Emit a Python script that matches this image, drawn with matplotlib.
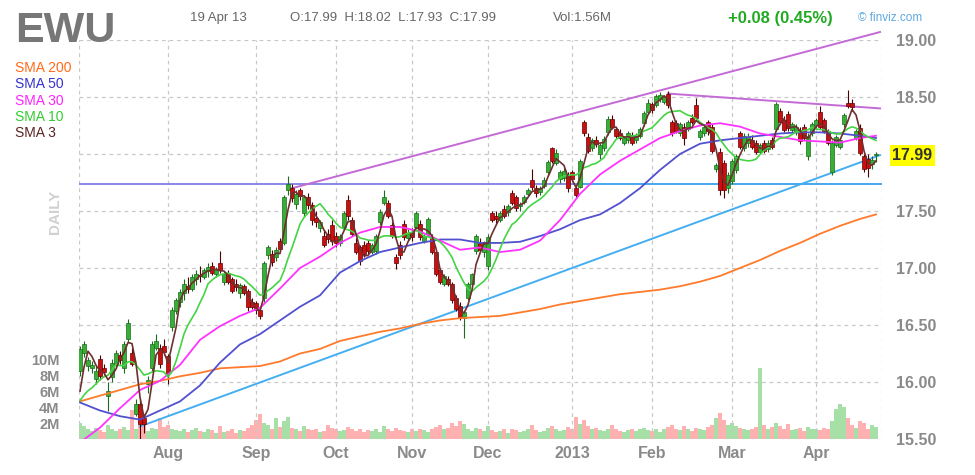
import matplotlib.pyplot as plt
import numpy as np
import pandas as pd

# daily OHLC, EWU, about 200 sessions up to 19 Apr 2013
opens = [
    16.10, 16.25, 16.14, 16.12, 16.03, 16.20, 16.12, 15.88, 16.04, 16.15,
    16.24, 16.12, 16.38, 16.25, 15.72, 15.81, 15.68, 15.98, 16.12, 16.30,
    16.30, 16.32, 16.23, 16.48, 16.62, 16.70, 16.78, 16.84, 16.82, 16.90,
    16.94, 16.92, 16.97, 17.02, 16.95, 17.04, 16.88, 16.96, 16.90, 16.86,
    16.78, 16.84, 16.80, 16.70, 16.69, 16.63, 16.74, 17.11, 17.12, 17.10,
    17.24, 17.22, 17.68, 17.70, 17.56, 17.68, 17.48, 17.62, 17.55, 17.44,
    17.35, 17.28, 17.30, 17.38, 17.28, 17.22, 17.36, 17.60, 17.42, 17.22,
    17.18, 17.20, 17.22, 17.14, 17.15, 17.40, 17.57, 17.57, 17.38, 17.10,
    17.20, 17.39, 17.26, 17.32, 17.36, 17.39, 17.24, 17.30, 17.27, 17.14,
    16.98, 16.86, 16.90, 16.86, 16.74, 16.67, 16.56, 16.74, 16.86, 17.15,
    17.22, 17.14, 17.02, 17.48, 17.46, 17.42, 17.52, 17.49, 17.66, 17.62,
    17.54, 17.58, 17.65, 17.77, 17.70, 17.67, 17.72, 17.84, 18.05, 17.92,
    17.78, 17.79, 17.82, 17.84, 17.70, 17.71, 18.28, 18.15, 18.05, 18.12,
    18.00, 18.05, 18.19, 18.31, 18.22, 18.18, 18.10, 18.12, 18.17, 18.12,
    18.16, 18.27, 18.37, 18.44, 18.43, 18.48, 18.46, 18.53, 18.28, 18.27,
    18.18, 18.24, 18.22, 18.32, 18.43, 18.15, 18.18, 18.28, 18.24, 17.87,
    18.02, 17.92, 17.70, 17.76, 17.86, 18.18, 18.05, 18.10, 18.12, 18.10,
    18.02, 18.10, 18.04, 18.12, 18.22, 18.38, 18.30, 18.35, 18.21, 18.19,
    18.21, 18.24, 17.98, 18.18, 18.25, 18.37, 18.30, 18.20, 17.84, 18.08,
    18.06, 18.26, 18.45, 18.45, 18.14, 18.23, 17.98, 17.96, 17.91, 17.99,
]
highs = [
    16.32, 16.36, 16.22, 16.18, 16.14, 16.24, 16.16, 16.00, 16.20, 16.28,
    16.27, 16.36, 16.55, 16.30, 15.85, 15.84, 15.72, 16.05, 16.36, 16.42,
    16.33, 16.38, 16.25, 16.66, 16.74, 16.82, 16.90, 16.92, 16.95, 16.98,
    17.02, 17.00, 17.04, 17.05, 17.01, 17.15, 16.97, 16.98, 16.92, 16.90,
    16.87, 16.86, 16.82, 16.74, 16.71, 16.65, 17.06, 17.20, 17.16, 17.18,
    17.26, 17.64, 17.81, 17.74, 17.68, 17.70, 17.64, 17.66, 17.58, 17.50,
    17.42, 17.33, 17.34, 17.42, 17.32, 17.30, 17.50, 17.64, 17.45, 17.26,
    17.20, 17.24, 17.25, 17.22, 17.30, 17.52, 17.68, 17.60, 17.40, 17.12,
    17.24, 17.42, 17.34, 17.35, 17.50, 17.42, 17.30, 17.45, 17.30, 17.16,
    17.00, 16.95, 16.93, 16.88, 16.76, 16.70, 16.63, 16.88, 16.96, 17.30,
    17.26, 17.24, 17.30, 17.50, 17.50, 17.50, 17.55, 17.56, 17.68, 17.64,
    17.58, 17.64, 17.70, 17.87, 17.73, 17.72, 17.80, 17.95, 18.06, 18.04,
    17.86, 17.88, 17.84, 17.86, 17.72, 17.96, 18.30, 18.18, 18.14, 18.16,
    18.10, 18.16, 18.33, 18.34, 18.24, 18.22, 18.16, 18.20, 18.19, 18.18,
    18.24, 18.38, 18.48, 18.46, 18.53, 18.54, 18.52, 18.55, 18.30, 18.30,
    18.28, 18.27, 18.30, 18.35, 18.49, 18.22, 18.26, 18.30, 18.26, 17.92,
    18.05, 17.95, 17.84, 17.96, 18.00, 18.20, 18.18, 18.18, 18.17, 18.12,
    18.10, 18.12, 18.12, 18.15, 18.46, 18.40, 18.33, 18.38, 18.28, 18.26,
    18.24, 18.26, 18.18, 18.28, 18.32, 18.42, 18.32, 18.22, 18.12, 18.17,
    18.14, 18.36, 18.56, 18.48, 18.22, 18.26, 18.00, 18.00, 17.98, 18.02,
]
lows = [
    16.05, 16.22, 16.10, 16.08, 15.98, 16.02, 16.06, 15.75, 16.00, 16.12,
    16.16, 16.08, 16.35, 16.14, 15.70, 15.48, 15.55, 15.90, 16.10, 16.28,
    16.12, 16.24, 15.98, 16.45, 16.60, 16.66, 16.72, 16.78, 16.80, 16.85,
    16.88, 16.90, 16.92, 16.94, 16.92, 16.96, 16.85, 16.86, 16.78, 16.80,
    16.74, 16.76, 16.62, 16.64, 16.60, 16.55, 16.70, 17.08, 17.02, 17.06,
    17.14, 17.20, 17.64, 17.58, 17.52, 17.60, 17.45, 17.52, 17.38, 17.36,
    17.32, 17.18, 17.22, 17.20, 17.18, 17.19, 17.34, 17.42, 17.28, 17.12,
    17.03, 17.10, 17.12, 17.12, 17.12, 17.38, 17.55, 17.44, 17.26, 16.99,
    17.08, 17.25, 17.24, 17.24, 17.34, 17.25, 17.22, 17.28, 17.12, 16.93,
    16.86, 16.84, 16.84, 16.69, 16.62, 16.54, 16.39, 16.72, 16.84, 17.12,
    17.14, 17.10, 16.98, 17.40, 17.39, 17.40, 17.44, 17.46, 17.55, 17.50,
    17.50, 17.56, 17.63, 17.68, 17.62, 17.64, 17.70, 17.82, 17.92, 17.90,
    17.75, 17.76, 17.67, 17.76, 17.61, 17.70, 18.16, 18.01, 18.03, 18.06,
    17.96, 18.03, 18.17, 18.22, 18.14, 18.12, 18.08, 18.10, 18.08, 18.10,
    18.14, 18.25, 18.35, 18.36, 18.41, 18.46, 18.44, 18.40, 18.16, 18.18,
    18.16, 18.08, 18.20, 18.26, 18.30, 18.12, 18.16, 18.17, 18.01, 17.84,
    17.64, 17.61, 17.66, 17.74, 17.83, 18.04, 18.03, 18.06, 18.04, 18.00,
    18.00, 18.01, 18.02, 18.04, 18.20, 18.26, 18.19, 18.20, 18.19, 18.17,
    18.09, 18.12, 17.95, 18.16, 18.23, 18.22, 18.18, 18.08, 17.82, 18.06,
    18.04, 18.24, 18.40, 18.38, 18.12, 17.99, 17.84, 17.80, 17.87, 17.93,
]
closes = [
    16.29, 16.33, 16.19, 16.15, 16.10, 16.05, 16.09, 15.92, 16.17, 16.25,
    16.19, 16.33, 16.52, 16.16, 15.81, 15.63, 15.63, 16.02, 16.33, 16.36,
    16.16, 16.26, 16.08, 16.63, 16.72, 16.79, 16.86, 16.82, 16.92, 16.95,
    16.93, 16.98, 17.01, 16.96, 16.99, 16.98, 16.95, 16.88, 16.80, 16.83,
    16.85, 16.78, 16.66, 16.66, 16.63, 16.58, 17.04, 17.18, 17.05, 17.16,
    17.17, 17.62, 17.74, 17.61, 17.65, 17.63, 17.62, 17.55, 17.42, 17.40,
    17.40, 17.20, 17.25, 17.24, 17.22, 17.28, 17.48, 17.46, 17.30, 17.14,
    17.06, 17.12, 17.15, 17.20, 17.28, 17.49, 17.62, 17.46, 17.28, 17.04,
    17.11, 17.27, 17.31, 17.27, 17.48, 17.27, 17.28, 17.43, 17.14, 16.95,
    16.88, 16.93, 16.86, 16.72, 16.64, 16.56, 16.61, 16.86, 16.95, 17.28,
    17.16, 17.21, 17.27, 17.42, 17.43, 17.48, 17.46, 17.54, 17.57, 17.53,
    17.56, 17.62, 17.68, 17.71, 17.66, 17.70, 17.77, 17.93, 17.94, 18.01,
    17.84, 17.85, 17.70, 17.78, 17.64, 17.94, 18.18, 18.03, 18.12, 18.09,
    18.08, 18.13, 18.31, 18.24, 18.16, 18.14, 18.14, 18.18, 18.10, 18.16,
    18.22, 18.36, 18.45, 18.39, 18.51, 18.52, 18.50, 18.43, 18.18, 18.20,
    18.26, 18.14, 18.28, 18.28, 18.32, 18.20, 18.24, 18.20, 18.03, 17.90,
    17.68, 17.68, 17.82, 17.94, 17.98, 18.06, 18.16, 18.15, 18.06, 18.02,
    18.08, 18.03, 18.10, 18.06, 18.44, 18.28, 18.21, 18.23, 18.26, 18.24,
    18.11, 18.14, 18.16, 18.26, 18.30, 18.24, 18.20, 18.10, 18.10, 18.15,
    18.12, 18.34, 18.42, 18.41, 18.20, 18.01, 17.87, 17.88, 17.95, 17.99,
]
# closes before the window, needed for the short averages
pre_closes = [15.85, 15.80, 15.90, 15.75, 15.70, 15.82, 15.79, 15.70, 15.77]

# volume in millions
volume = [
    2.0, 1.6, 1.2, 1.0, 1.4, 1.1, 0.9, 1.8, 1.2, 1.0,
    1.3, 1.5, 1.1, 3.6, 1.2, 3.0, 2.2, 1.0, 1.4, 1.2,
    2.6, 1.5, 1.8, 1.3, 1.1, 1.0, 1.2, 0.9, 1.1, 1.4,
    1.0, 0.9, 1.3, 1.1, 0.8, 1.6, 0.9, 1.0, 1.2, 0.8,
    1.1, 1.0, 1.4, 1.7, 2.4, 3.1, 2.0, 1.8, 1.2, 2.6,
    1.5, 2.2, 2.8, 1.4, 1.2, 1.0, 1.6, 1.3, 1.1, 1.2,
    0.9, 1.0, 1.8, 1.4, 1.2, 1.0, 1.1, 1.5, 1.3, 1.0,
    1.2, 0.9, 1.1, 1.0, 1.3, 0.9, 1.6, 1.2, 1.0, 1.4,
    1.1, 1.0, 0.9, 1.2, 1.0, 1.3, 1.1, 0.9, 1.2, 1.5,
    1.8, 1.2, 1.4, 2.0, 1.6, 2.2, 1.9, 1.3, 1.0, 1.4,
    1.2, 1.0, 1.6, 1.1, 0.9, 1.0, 1.2, 0.8, 1.3, 1.1,
    0.9, 1.0, 1.2, 1.8, 1.1, 0.9, 1.0, 1.4, 1.6, 1.2,
    1.0, 1.1, 1.5, 1.3, 2.8, 1.9, 2.4, 1.6, 1.2, 1.4,
    1.1, 1.0, 1.3, 1.8, 1.2, 1.0, 0.9, 1.1, 1.3, 1.0,
    1.2, 1.4, 1.1, 1.0, 1.3, 0.9, 1.2, 1.5, 1.8, 1.3,
    1.1, 1.6, 1.2, 1.0, 1.4, 1.2, 1.1, 1.5, 1.8, 2.6,
    3.2, 2.4, 1.8, 2.0, 1.6, 1.4, 1.2, 1.1, 1.3, 1.5,
    8.9, 1.8, 1.2, 1.5, 2.0, 1.6, 1.3, 1.9, 1.1, 1.2,
    1.4, 1.0, 1.5, 1.2, 1.3, 1.1, 1.4, 1.2, 2.2, 3.8,
    4.4, 4.0, 2.6, 1.7, 1.4, 2.3, 2.0, 1.2, 1.8, 1.56,
]

# longer averages every 5 sessions
sma_bars = [0, 5, 10, 15, 20, 25, 30, 35, 40, 45, 50, 55, 60, 65, 70, 75, 80, 85, 90, 95,
            100, 105, 110, 115, 120, 125, 130, 135, 140, 145, 150, 155, 160, 165, 170, 175,
            180, 185, 190, 195, 199]
sma200 = [15.83, 15.88, 15.93, 15.98, 16.01, 16.05, 16.08, 16.12, 16.13, 16.14,
          16.18, 16.25, 16.29, 16.36, 16.40, 16.44, 16.47, 16.51, 16.54, 16.56,
          16.57, 16.58, 16.61, 16.64, 16.68, 16.71, 16.74, 16.77, 16.79, 16.81,
          16.84, 16.88, 16.93, 17.00, 17.07, 17.15, 17.22, 17.30, 17.37, 17.43, 17.47]
sma50 = [15.82, 15.75, 15.70, 15.67, 15.75, 15.83, 15.97, 16.17, 16.33, 16.42,
         16.54, 16.66, 16.76, 16.96, 17.06, 17.14, 17.18, 17.22, 17.25, 17.25,
         17.22, 17.22, 17.23, 17.28, 17.34, 17.42, 17.47, 17.57, 17.70, 17.86,
         18.00, 18.09, 18.12, 18.14, 18.16, 18.18, 18.19, 18.19, 18.18, 18.16, 18.14]
sma30 = [15.47, 15.60, 15.77, 15.93, 16.01, 16.15, 16.37, 16.49, 16.58, 16.65,
         16.82, 17.00, 17.10, 17.22, 17.31, 17.36, 17.36, 17.32, 17.24, 17.16,
         17.18, 17.14, 17.16, 17.24, 17.42, 17.65, 17.82, 17.94, 18.04, 18.14,
         18.20, 18.25, 18.27, 18.24, 18.18, 18.15, 18.12, 18.11, 18.10, 18.14, 18.16]

# first session of each month
month_start = [22, 44, 64, 83, 102, 123, 143, 163, 184]
month_names = ['Aug', 'Sep', 'Oct', 'Nov', 'Dec', '2013', 'Feb', 'Mar', 'Apr']

# trendlines: (start bar, end bar), (start price, end price)
support_bars, support_px = [15, 200], [15.61, 17.99]
rising_bars, rising_px = [53, 200], [17.70, 19.07]
falling_bars, falling_px = [147, 200], [18.53, 18.40]
flat_level = 17.74
flat_cyan_from = 124

price_ticks = [15.5, 16.0, 16.5, 17.0, 17.5, 18.0, 18.5, 19.0]
vol_ticks = [2, 4, 6, 8, 10]
last_close = 17.99

plt.rcParams['font.family'] = ['Liberation Sans', 'DejaVu Sans']

o = np.array(opens)
h = np.array(highs)
l = np.array(lows)
c = np.array(closes)
idx = np.arange(len(c))
up = c >= o

all_closes = pd.Series(pre_closes + closes)
sma10 = all_closes.rolling(10).mean().values[len(pre_closes):]
sma3 = all_closes.rolling(3).mean().values[len(pre_closes):]

fig = plt.figure(figsize=(9.75, 4.75), dpi=100)
rect = [79 / 975, 1 - 439 / 475, (882 - 79) / 975, (439 - 40) / 475]
axv = fig.add_axes(rect)
ax = fig.add_axes(rect)
ax.patch.set_visible(False)

xlim = (-0.25, 200.5)
grid_kw = dict(color='#c8c8c8', linestyle=(0, (3, 3)), linewidth=0.9)

# volume
axv.bar(idx, volume, width=0.8, color=np.where(up, '#a6e0a6', '#ffb0b0'), zorder=1)
axv.set_xlim(xlim)
axv.set_ylim(0, 49.9)
axv.set_xticks([])
axv.set_yticks(vol_ticks)
axv.set_yticklabels(['%dM' % v for v in vol_ticks])
axv.tick_params(axis='y', length=0, pad=14, labelsize=10.5, labelcolor='#8a8a8a')
for t in axv.get_yticklabels():
    t.set_fontweight('bold')
for s in axv.spines.values():
    s.set_visible(False)

# price grid, the 18.00 label gives way to the last price box
ax.set_xlim(xlim)
ax.set_ylim(15.5, 19.0)
ax.set_xticks(month_start)
ax.set_xticklabels(month_names)
ax.set_yticks(price_ticks)
ax.set_yticklabels(['' if p == 18.0 else '%.2f' % p for p in price_ticks])
ax.yaxis.tick_right()
ax.tick_params(axis='y', length=0, pad=10, labelsize=11.5, labelcolor='#8a8a8a')
ax.tick_params(axis='x', length=0, pad=5, labelsize=11.5, labelcolor='#8a8a8a')
for t in ax.get_yticklabels() + ax.get_xticklabels():
    t.set_fontweight('bold')
ax.grid(True, zorder=0, **grid_kw)
for s in ax.spines.values():
    s.set_visible(False)
ax.axvline(xlim[0], **grid_kw)
ax.axvline(xlim[1], **grid_kw)

# trendlines
ax.axhline(flat_level, color='#7f7fe6', linewidth=1.3, zorder=2)
ax.plot([flat_cyan_from, xlim[1]], [flat_level, flat_level], color='#45aef0', linewidth=1.3, zorder=2)
ax.plot(support_bars, support_px, color='#45aef0', linewidth=1.4, zorder=2)
ax.plot(rising_bars, rising_px, color='#c46ad6', linewidth=1.4, zorder=2, clip_on=False)
ax.plot(falling_bars, falling_px, color='#c46ad6', linewidth=1.4, zorder=2)

# candles
ax.vlines(idx, l, h, color=np.where(up, '#1d6b1d', '#4d0000'), linewidth=0.8, zorder=3)
body = np.maximum(np.abs(c - o), 0.008)
ax.bar(idx, body, bottom=np.minimum(o, c), width=0.78,
       color=np.where(up, '#35b035', '#c81010'),
       edgecolor=np.where(up, '#1d6b1d', '#6a0000'), linewidth=0.5, zorder=4)

# moving averages
ax.plot(sma_bars, sma200, color='#ff7a2a', linewidth=1.3, zorder=5)
ax.plot(sma_bars, sma50, color='#5050d0', linewidth=1.3, zorder=5)
ax.plot(sma_bars, sma30, color='#ff33ff', linewidth=1.3, zorder=5)
ax.plot(idx, sma10, color='#44d444', linewidth=1.2, zorder=5)
ax.plot(idx, sma3, color='#6e2f2f', linewidth=1.2, zorder=6)

# last price label
ax.text(1.013, last_close, '%.2f' % last_close, transform=ax.get_yaxis_transform(),
        ha='left', va='center', fontsize=11.5, fontweight='bold', color='#333333',
        bbox=dict(boxstyle='square,pad=0.18', facecolor='#ffff00', edgecolor='none'),
        zorder=10, clip_on=False)

# header
fig.text(15 / 975, 1 - 31 / 475, 'EWU', fontsize=31, fontweight='bold', color='#777777', va='center')
fig.text(190 / 975, 1 - 18 / 475, '19 Apr 13', fontsize=9.5, color='#666666', va='center')
fig.text(290 / 975, 1 - 18 / 475, 'O:17.99  H:18.02  L:17.93  C:17.99', fontsize=9.5, color='#666666', va='center')
fig.text(553 / 975, 1 - 18 / 475, 'Vol:1.56M', fontsize=9.5, color='#666666', va='center')
fig.text(728 / 975, 1 - 18 / 475, '+0.08 (0.45%)', fontsize=12, fontweight='bold', color='#22aa22', va='center')
fig.text(858 / 975, 1 - 18 / 475, '\u00a9 finviz.com', fontsize=8.5, color='#5fa8e0', va='center')

legend = [('SMA 200', '#ff6a1a'), ('SMA 50', '#3333cc'), ('SMA 30', '#ff22ff'),
          ('SMA 10', '#33cc33'), ('SMA 3', '#5a2424')]
for k, (name, col) in enumerate(legend):
    fig.text(15 / 975, 1 - (68 + 16.3 * k) / 475, name, fontsize=10, color=col, va='center')

fig.text(55 / 975, 1 - 212 / 475, 'DAILY', fontsize=11, fontweight='bold', color='#d0d0d0',
         rotation=90, ha='center', va='center')

fig.savefig('out.png', dpi=100)
